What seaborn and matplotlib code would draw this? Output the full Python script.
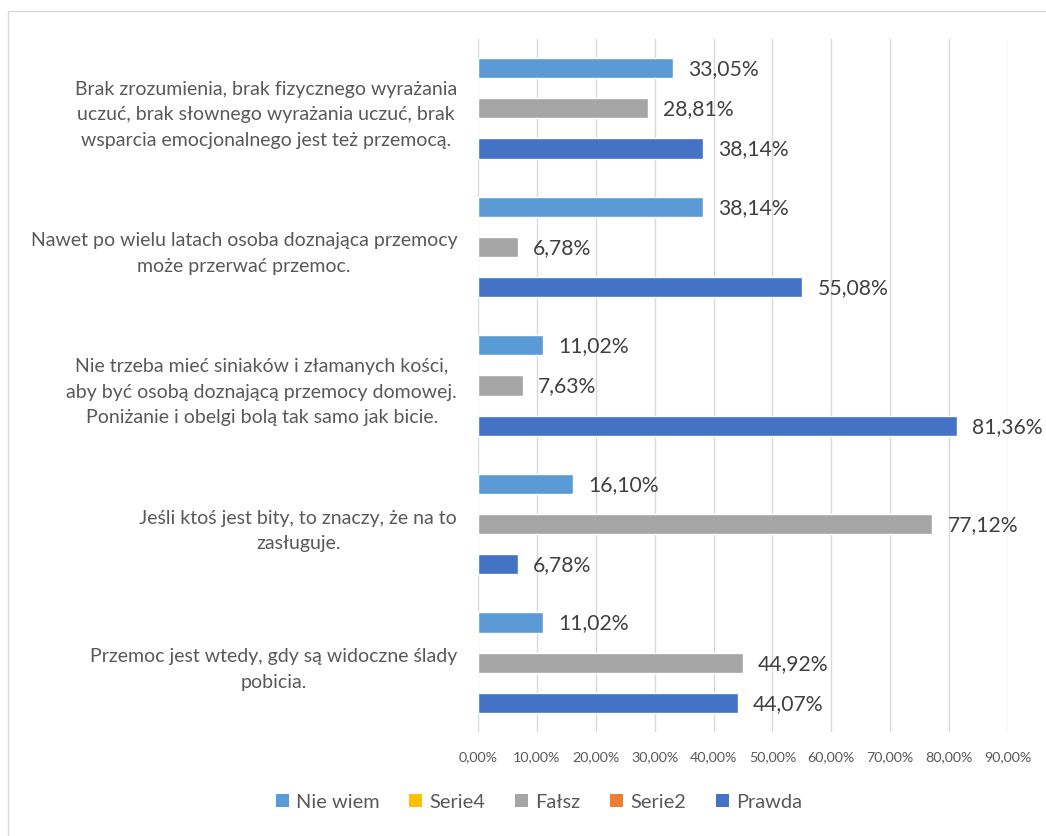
import matplotlib
matplotlib.use("Agg")
import matplotlib.pyplot as plt
from matplotlib.patches import Patch, Rectangle
import seaborn as sns
import pandas as pd

categories = [
    "Brak zrozumienia, brak fizycznego wyrażania\nuczuć, brak słownego wyrażania uczuć, brak\nwsparcia emocjonalnego jest też przemocą.",
    "Nawet po wielu latach osoba doznająca przemocy\nmoże przerwać przemoc.",
    "Nie trzeba mieć siniaków i złamanych kości,\naby być osobą doznającą przemocy domowej.\nPoniżanie i obelgi bolą tak samo jak bicie.",
    "Jeśli ktoś jest bity, to znaczy, że na to\nzasługuje.",
    "Przemoc jest wtedy, gdy są widoczne ślady\npobicia.",
]
series = ["Nie wiem", "Serie4", "Fałsz", "Serie2", "Prawda"]
nie_wiem = [33.05, 38.14, 11.02, 16.10, 11.02]
serie4 = [0, 0, 0, 0, 0]
falsz = [28.81, 6.78, 7.63, 77.12, 44.92]
serie2 = [0, 0, 0, 0, 0]
prawda = [38.14, 55.08, 81.36, 6.78, 44.07]
xticks = [0, 10, 20, 30, 40, 50, 60, 70, 80, 90]

colors = {"Nie wiem": "#5B9BD5", "Serie4": "#FFC000", "Fałsz": "#A5A5A5",
          "Serie2": "#ED7D31", "Prawda": "#4472C4"}

values = {"Nie wiem": nie_wiem, "Serie4": serie4, "Fałsz": falsz,
          "Serie2": serie2, "Prawda": prawda}
rows = []
for s in series:
    for c, v in zip(categories, values[s]):
        rows.append({"kategoria": c, "seria": s, "wartosc": v})
df = pd.DataFrame(rows)

sns.set_style("white")
plt.rcParams["font.family"] = ["Lato", "DejaVu Sans"]

fig = plt.figure(figsize=(10.46, 8.37), dpi=100)
ax = fig.add_axes([478/1046, 1-733/837, (1008-478)/1046, (733-40)/837])

sns.barplot(data=df, y="kategoria", x="wartosc", hue="seria", order=categories,
            hue_order=series, palette=colors, orient="h", width=0.725,
            legend=False, ax=ax, saturation=1, errorbar=None)

ax.set_xlim(0, 90)
ax.set_ylim(4.5, -0.5)
ax.set_xticks(xticks)
ax.set_xticklabels([f"{t:.2f}".replace(".", ",") + "%" for t in xticks],
                   fontsize=10.3, color="#595959")
ax.tick_params(axis="x", length=0, pad=13)
ax.tick_params(axis="y", length=0, pad=15)
ax.set_yticks(range(len(categories)))
ax.set_yticklabels(categories, fontsize=14, color="#595959",
                   multialignment="center", linespacing=1.6)
ax.set_xlabel("")
ax.set_ylabel("")
for sp in ax.spines.values():
    sp.set_visible(False)
ax.grid(axis="x", color="#D9D9D9", linewidth=1.0)
ax.set_axisbelow(True)

for cont, s in zip(ax.containers, series):
    if s in ("Serie4", "Serie2"):
        continue
    labels = [f"{v:.2f}".replace(".", ",") + "%" for v in values[s]]
    ax.bar_label(cont, labels=labels, padding=11, fontsize=15.2, color="#404040")

handles = [Patch(facecolor=colors[s], edgecolor="none") for s in series]
fig.legend(handles, series, loc="center", bbox_to_anchor=(539/1046, 1-803/837),
           ncol=5, frameon=False, fontsize=14.4, labelcolor="#595959",
           handlelength=0.65, handleheight=0.65, handletextpad=0.35, columnspacing=1.5)

fig.patches.append(Rectangle((8/1046, -0.1), 1.2, 1-12/837+0.1, transform=fig.transFigure,
                             fill=False, edgecolor="#D9D9D9", linewidth=1.0))

fig.savefig("out.png", dpi=100)
